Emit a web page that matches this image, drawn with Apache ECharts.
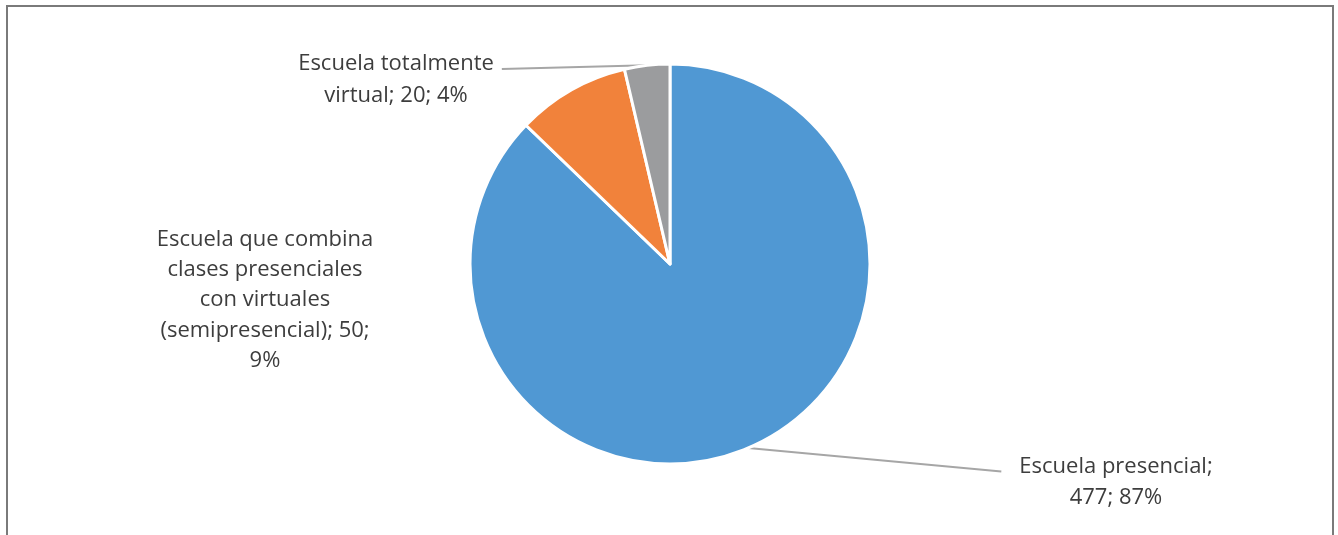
<!DOCTYPE html>
<html>
<head>
<meta charset="utf-8">
<title>Tipo de escuela</title>
<script src="https://cdn.jsdelivr.net/npm/echarts@6/dist/echarts.min.js"></script>
<style>
  html, body { margin: 0; padding: 0; background: #ffffff; }
  #chart { width: 1338px; height: 535px; }
</style>
</head>
<body>
<div id="chart"></div>
<script>
// School types and number of answers for each
const categories = [
  'Escuela presencial',
  'Escuela que combina clases presenciales con virtuales (semipresencial)',
  'Escuela totalmente virtual'
];
const values = [477, 50, 20];
const percentLabels = ['87%', '9%', '4%'];
const sliceColors = ['#5098d3', '#f1823b', '#9b9c9e'];

// Label text broken into lines, plus where each label block sits
const labelLines = [
  ['Escuela presencial;', '{v}; {p}'],
  ['Escuela que combina', 'clases presenciales', 'con virtuales', '(semipresencial); {v};', '{p}'],
  ['Escuela totalmente', 'virtual; {v}; {p}']
];
const labelPlacement = [
  { x: 1116, y: 482, lh: 31, line: true, lineEnd: 'left' },
  { x: 265, y: 300, lh: 30.3, line: false },
  { x: 396, y: 80, lh: 32, line: true, lineEnd: 'right' }
];

const chart = echarts.init(document.getElementById('chart'), null, { renderer: 'canvas' });

const seriesData = categories.map((name, i) => ({
  name: name,
  value: values[i],
  itemStyle: { color: sliceColors[i] },
  label: { lineHeight: labelPlacement[i].lh },
  labelLine: { show: labelPlacement[i].line }
}));

chart.setOption({
  animation: false,
  backgroundColor: '#ffffff',
  graphic: [{
    type: 'rect',
    shape: { x: 7, y: 6, width: 1326, height: 560 },
    style: { fill: 'none', stroke: '#7a7a7a', lineWidth: 2 },
    silent: true,
    z: 0
  }],
  series: [{
    type: 'pie',
    center: [670, 264],
    radius: 200,
    startAngle: 90,
    clockwise: true,
    avoidLabelOverlap: false,
    data: seriesData,
    itemStyle: { borderColor: '#ffffff', borderWidth: 3 },
    label: {
      show: true,
      position: 'outside',
      color: '#3d3d3d',
      fontFamily: '"Open Sans", Lato, sans-serif',
      fontSize: 22,
      align: 'center',
      formatter: function (p) {
        return labelLines[p.dataIndex]
          .map(s => s.replace('{v}', values[p.dataIndex]).replace('{p}', percentLabels[p.dataIndex]))
          .join('\n');
      }
    },
    labelLine: {
      show: true,
      length: 10,
      length2: 0,
      smooth: false,
      lineStyle: { color: '#a6a6a6', width: 2 }
    },
    labelLayout: function (params) {
      const pl = labelPlacement[params.dataIndex];
      const out = { x: pl.x, y: pl.y, align: 'center', verticalAlign: 'middle' };
      const pts = params.labelLinePoints;
      if (pl.line && pts) {
        const start = pts[0];
        const w = params.labelRect.width;
        const firstLineY = pl.y - (labelLines[params.dataIndex].length - 1) * pl.lh / 2 + 5;
        const end = pl.lineEnd === 'left'
          ? [pl.x - w / 2 - 18, firstLineY]
          : [pl.x + w / 2 + 8, firstLineY];
        out.labelLinePoints = [start, start, end];
      }
      return out;
    }
  }]
});
</script>
</body>
</html>
